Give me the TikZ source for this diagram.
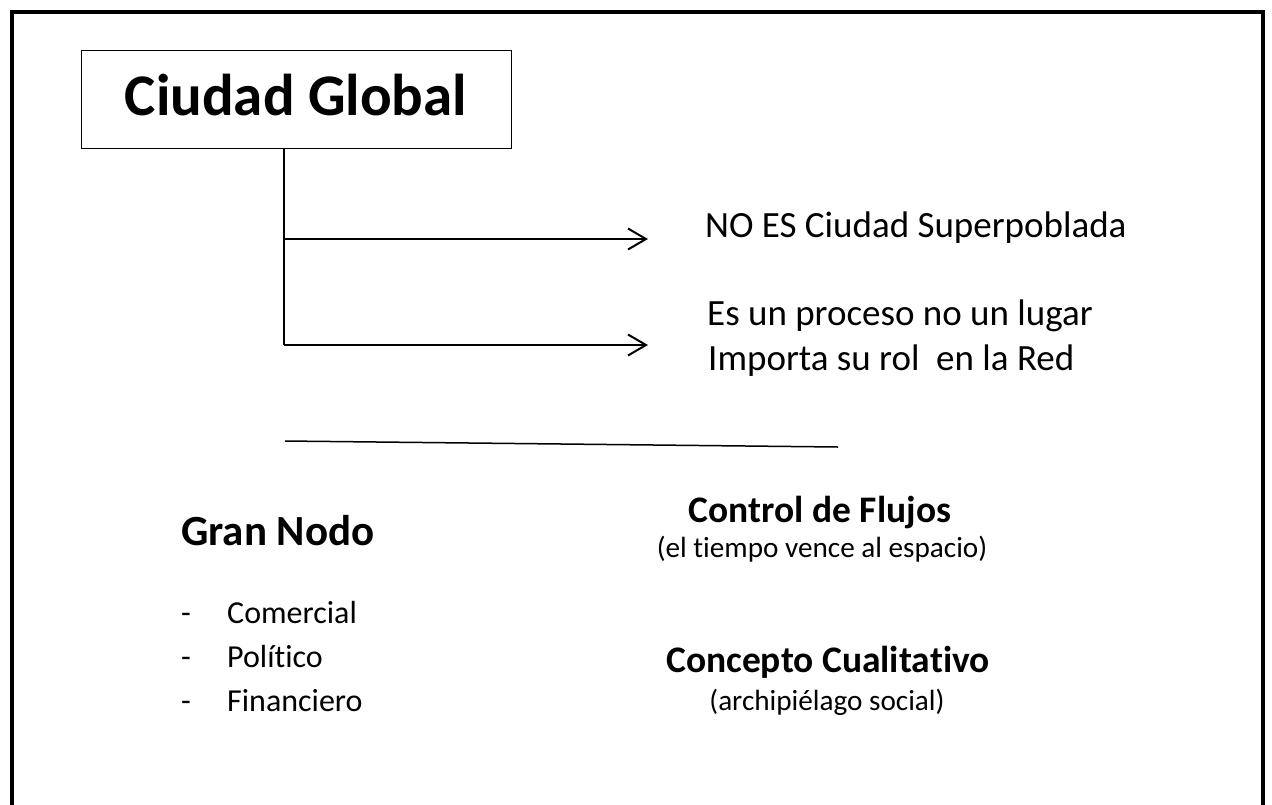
\documentclass[tikz,border=0pt]{standalone}
\usepackage{fontspec}
\setmainfont{Carlito}[Ligatures=NoCommon]
\usepackage{tikz}
\usetikzlibrary{
	arrows.meta,
	positioning,
}
\tikzset{default text/.style={
	inner sep=0pt,
	anchor=base west,
	font=\fontsize{37}{45}\selectfont,
	black,
}}

\begin{document}
\begin{tikzpicture}[
x=1pt, y=-1pt,
every path/.style={black},
]
\useasboundingbox (0,0) rectangle (1272,804);

\tikzset{
	titulo/.style={draw, line width=1pt, inner sep=0pt, minimum width=430pt, minimum height=98pt,
		text height=41pt, text depth=9pt, font=\bfseries\fontsize{59}{70}\selectfont},
	flecha/.style={line width=2pt, -{Straight Barb[length=18pt,width=21pt,line width=2pt]}},
	item/.style={default text, font=\fontsize{32}{44}\selectfont},
	cabeza/.style={default text, anchor=base, font=\bfseries\fontsize{37.5}{44}\selectfont},
	nota/.style={default text, anchor=base, font=\fontsize{29.2}{36}\selectfont},
}

% marco abierto por abajo
\draw[line width=4pt, line join=miter] (12,830) -- (12,12) -- (1263,12) -- (1263,830);

\node[titulo] (ciudad) at (296,99) {Ciudad Global};

\coordinate (tronco) at (ciudad.south -| 284,0);
\coordinate (rama1) at (284,239);
\coordinate (rama2) at (284,345);
\coordinate (punta1) at (648,239);
\coordinate (punta2) at (648,345);

\node[default text] (noes) at (705,237) {NO ES Ciudad Superpoblada};
\node[default text] (proceso) at (707,325) {Es un proceso no un lugar};
\node[default text] (rol) at (708,370) {Importa su rol\ \ en la Red};

\draw[line width=1.3pt] (tronco) -- (rama2);
\draw[flecha] (rama1) -- (punta1);
\draw[flecha] (rama2) -- (punta2);

\coordinate (sepA) at (285,441);
\coordinate (sepB) at (838,447);
\draw[line width=1.5pt] (sepA) -- (sepB);

\node[default text, font=\bfseries\fontsize{43}{50}\selectfont] (nodo) at (181,545) {Gran Nodo};

\begin{scope}[every node/.style={item}]
\node (g1) at (181,623) {-};
\node (g2) at (181,667) {-};
\node (g3) at (181,711) {-};
\node (comercial)  at (227,623) {Comercial};
\node (politico)   at (227,667) {Político};
\node (financiero) at (227,711) {Financiero};
\end{scope}

\node[cabeza] (flujos) at (820,522) {Control de Flujos};
\node[nota] (tiempo) at (822,557) {(el tiempo vence al espacio)};
\node[cabeza] (concepto) at (828,672) {Concepto Cualitativo};
\node[nota] (archi) at (827,710) {(archipiélago social)};

\end{tikzpicture}
\end{document}
